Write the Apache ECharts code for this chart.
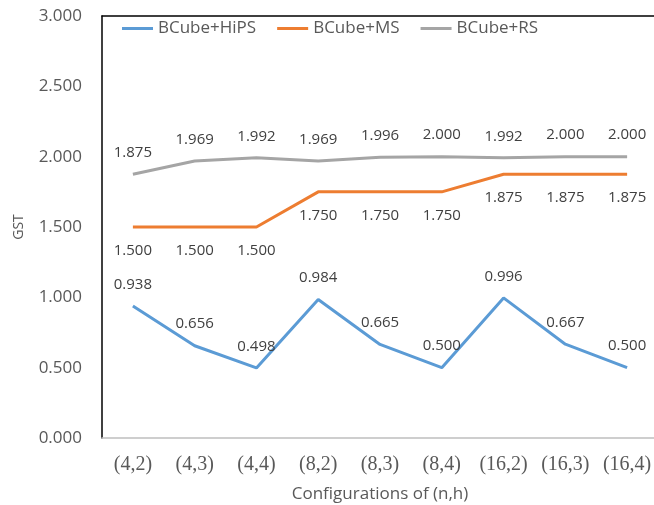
<!DOCTYPE html>
<html>
<head>
<meta charset="utf-8">
<script src="https://cdn.jsdelivr.net/npm/echarts@6/dist/echarts.min.js"></script>
<style>
  html, body { margin: 0; padding: 0; background: #fff; }
  #chart { width: 654px; height: 505px; }
</style>
</head>
<body>
<div id="chart"></div>
<script>
// Configurations (n,h)
const categories = ['(4,2)', '(4,3)', '(4,4)', '(8,2)', '(8,3)', '(8,4)', '(16,2)', '(16,3)', '(16,4)'];
// GST values per scheme
const hipsValues = [0.938, 0.656, 0.498, 0.984, 0.665, 0.500, 0.996, 0.667, 0.500];
const msValues = [1.500, 1.500, 1.500, 1.750, 1.750, 1.750, 1.875, 1.875, 1.875];
const rsValues = [1.875, 1.969, 1.992, 1.969, 1.996, 2.000, 1.992, 2.000, 2.000];
const seriesNames = ['BCube+HiPS', 'BCube+MS', 'BCube+RS'];
const yTicks = { min: 0, max: 3, interval: 0.5 };

const sansFont = '"Open Sans", "Noto Sans", sans-serif';
const serifFont = '"Liberation Serif", "DejaVu Serif", serif';

function lineSeries(name, data, color, labelPos, labelDist) {
  return {
    name: name,
    type: 'line',
    data: data,
    symbol: 'circle',
    symbolSize: 0,
    showSymbol: true,
    lineStyle: { color: color, width: 3 },
    itemStyle: { color: color },
    label: {
      show: true,
      position: labelPos,
      distance: labelDist,
      color: '#404040',
      fontFamily: sansFont,
      fontSize: 15,
      formatter: p => p.value.toFixed(3)
    },
    z: 3
  };
}

const chart = echarts.init(document.getElementById('chart'), null, { renderer: 'canvas' });
chart.setOption({
  animation: false,
  backgroundColor: '#ffffff',
  grid: {
    left: 102, top: 16, width: 556, height: 422,
    containLabel: false,
    outerBoundsMode: 'none'
  },
  legend: {
    left: 117,
    top: 15,
    icon: 'rect',
    itemWidth: 31,
    itemHeight: 3,
    itemGap: 21,
    textStyle: { color: '#595959', fontFamily: sansFont, fontSize: 17 },
    data: seriesNames
  },
  xAxis: [
    {
      type: 'category',
      data: categories,
      boundaryGap: true,
      position: 'bottom',
      axisLine: { show: true, lineStyle: { color: '#bfbfbf', width: 1.5 } },
      axisTick: { show: false },
      axisLabel: { interval: 0, color: '#595959', fontFamily: serifFont, fontSize: 20, margin: 17 },
      splitLine: { show: false },
      name: 'Configurations of (n,h)',
      nameLocation: 'middle',
      nameGap: 48,
      nameTextStyle: { color: '#595959', fontFamily: sansFont, fontSize: 17 }
    },
    {
      type: 'category',
      data: categories,
      position: 'top',
      axisLine: { show: true, lineStyle: { color: '#000000', width: 1.5 } },
      axisTick: { show: false },
      axisLabel: { show: false },
      splitLine: { show: false }
    }
  ],
  yAxis: {
    type: 'value',
    min: yTicks.min,
    max: yTicks.max,
    interval: yTicks.interval,
    axisLine: { show: true, lineStyle: { color: '#000000', width: 1.5 } },
    axisTick: { show: false },
    splitLine: { show: false },
    axisLabel: {
      color: '#595959',
      fontFamily: sansFont,
      fontSize: 17,
      margin: 20,
      formatter: v => v.toFixed(3)
    },
    name: 'GST',
    nameLocation: 'middle',
    nameGap: 76,
    nameRotate: 90,
    nameTextStyle: { color: '#595959', fontFamily: sansFont, fontSize: 14 }
  },
  series: [
    lineSeries(seriesNames[0], hipsValues, '#5b9bd5', 'top', 14),
    lineSeries(seriesNames[1], msValues, '#ed7d31', 'bottom', 16),
    lineSeries(seriesNames[2], rsValues, '#a5a5a5', 'top', 14)
  ]
});
</script>
</body>
</html>
